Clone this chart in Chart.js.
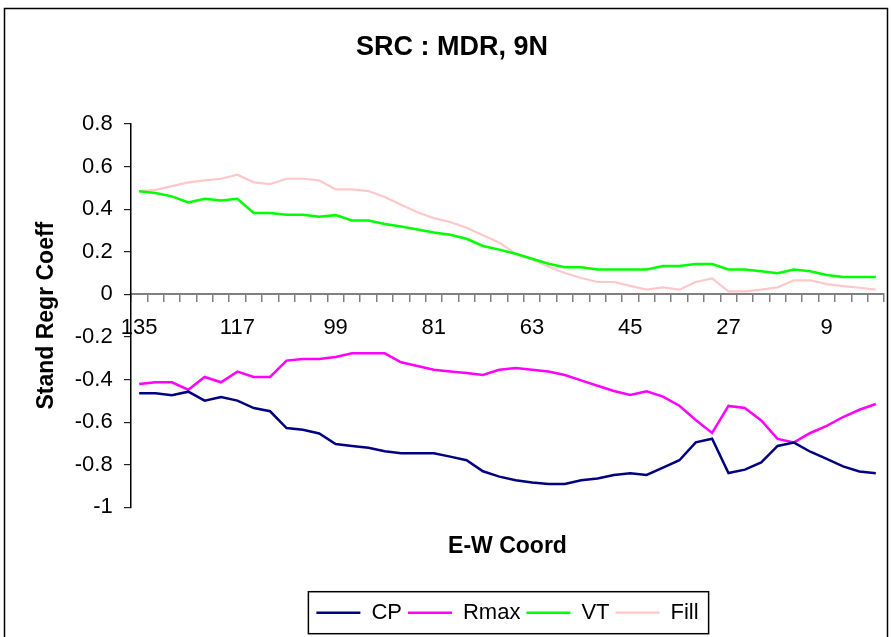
<!DOCTYPE html>
<html>
<head>
<meta charset="utf-8">
<title>SRC : MDR, 9N</title>
<script src="https://cdn.jsdelivr.net/npm/chart.js@4/dist/chart.umd.min.js"></script>
<style>
  html, body { margin: 0; padding: 0; background: #fff; }
  canvas { display: block; }
</style>
</head>
<body>
<canvas id="src_chart" width="892" height="637"></canvas>
<script>
const coords = [135, 132, 129, 126, 123, 120, 117, 114, 111, 108, 105, 102, 99, 96, 93, 90,
  87, 84, 81, 78, 75, 72, 69, 66, 63, 60, 57, 54, 51, 48, 45, 42, 39, 36, 33, 30, 27, 24,
  21, 18, 15, 12, 9, 6, 3, 0];

const cp = [-0.465, -0.465, -0.474, -0.457, -0.499, -0.482, -0.499, -0.534, -0.549, -0.628,
  -0.636, -0.653, -0.703, -0.712, -0.72, -0.737, -0.746, -0.746, -0.746, -0.762, -0.779,
  -0.831, -0.856, -0.873, -0.883, -0.891, -0.891, -0.873, -0.865, -0.848, -0.84, -0.848,
  -0.814, -0.779, -0.695, -0.678, -0.839, -0.823, -0.789, -0.712, -0.696, -0.739, -0.773,
  -0.808, -0.832, -0.84];

const rmax = [-0.421, -0.413, -0.413, -0.448, -0.388, -0.413, -0.363, -0.388, -0.388, -0.311,
  -0.304, -0.304, -0.294, -0.277, -0.277, -0.277, -0.319, -0.336, -0.354, -0.362, -0.369,
  -0.379, -0.354, -0.346, -0.354, -0.362, -0.379, -0.404, -0.429, -0.454, -0.472, -0.455,
  -0.48, -0.523, -0.59, -0.651, -0.524, -0.534, -0.592, -0.679, -0.695, -0.651, -0.618,
  -0.576, -0.542, -0.515];

const vt = [0.484, 0.476, 0.46, 0.432, 0.449, 0.441, 0.449, 0.382, 0.382, 0.374, 0.374, 0.365,
  0.372, 0.347, 0.347, 0.33, 0.319, 0.305, 0.29, 0.28, 0.261, 0.227, 0.21, 0.191, 0.167,
  0.144, 0.127, 0.127, 0.117, 0.117, 0.117, 0.117, 0.133, 0.133, 0.142, 0.142, 0.117, 0.117,
  0.108, 0.099, 0.117, 0.108, 0.091, 0.081, 0.081, 0.081];

const fill = [0.484, 0.491, 0.508, 0.526, 0.535, 0.543, 0.562, 0.526, 0.518, 0.543, 0.543,
  0.535, 0.493, 0.493, 0.485, 0.457, 0.421, 0.386, 0.358, 0.34, 0.313, 0.277, 0.243, 0.191,
  0.164, 0.131, 0.1, 0.077, 0.058, 0.058, 0.04, 0.022, 0.033, 0.022, 0.058, 0.075, 0.014,
  0.014, 0.022, 0.033, 0.066, 0.066, 0.048, 0.039, 0.031, 0.022];

const FONT = 'Liberation Sans, Arial, sans-serif';

// white page with the thin outer frame
const chartFrame = {
  id: 'chartFrame',
  beforeDraw(chart) {
    const c = chart.ctx;
    c.save();
    c.fillStyle = '#fff';
    c.fillRect(0, 0, chart.width, chart.height);
    c.strokeStyle = '#000';
    c.lineWidth = 1.5;
    c.strokeRect(4.5, 8.5, 883, 700);
    c.restore();
  }
};

// box round the legend row
const legendBorder = {
  id: 'legendBorder',
  afterDraw(chart) {
    const boxes = chart.legend.legendHitBoxes;
    if (!boxes || !boxes.length) return;
    const first = boxes[0];
    const last = boxes[boxes.length - 1];
    const mid = first.top + first.height / 2;
    const c = chart.ctx;
    c.save();
    c.strokeStyle = '#000';
    c.lineWidth = 1.5;
    c.strokeRect(first.left - 8, mid - 21, last.left + last.width + 18 - first.left, 42);
    c.restore();
  }
};

const line = (label, data, color, width) => ({
  label: label,
  data: data,
  borderColor: color,
  backgroundColor: color,
  borderWidth: width,
  pointRadius: 0,
  pointHoverRadius: 0,
  tension: 0,
  fill: false
});

const src = new Chart(document.getElementById('src_chart'), {
  type: 'line',
  data: {
    labels: coords,
    datasets: [
      line('CP', cp, '#000080', 2.5),
      line('Rmax', rmax, '#ff00ff', 2.5),
      line('VT', vt, '#00ff00', 2.5),
      line('Fill', fill, '#ffc8c8', 2.2)
    ]
  },
  plugins: [chartFrame, legendBorder],
  options: {
    responsive: false,
    animation: false,
    devicePixelRatio: 1,
    layout: { padding: { left: 20, right: 8, top: 0, bottom: 3.3 } },
    plugins: {
      title: {
        display: true,
        text: 'SRC : MDR, 9N',
        color: '#000',
        font: { family: FONT, size: 27, weight: 'bold', lineHeight: 1.2 },
        padding: { top: 31, bottom: 60.6 }
      },
      legend: {
        position: 'bottom',
        fullSize: false,
        labels: {
          color: '#000',
          font: { family: FONT, size: 22 },
          usePointStyle: true,
          pointStyle: 'line',
          pointStyleWidth: 44,
          padding: 6
        }
      },
      tooltip: { enabled: false }
    },
    scales: {
      x: {
        type: 'category',
        position: { y: 0 },
        offset: true,
        grid: {
          offset: true,
          drawOnChartArea: false,
          tickLength: 7,
          color: '#808080',
          lineWidth: 1.5
        },
        border: { color: '#808080', width: 2 },
        ticks: {
          autoSkip: false,
          maxRotation: 0,
          padding: 13,
          color: '#000',
          font: { family: FONT, size: 22, lineHeight: 1.2 },
          callback: function (value, index) {
            return index % 6 === 0 ? this.getLabelForValue(value) : '';
          }
        }
      },
      xTitle: {
        type: 'category',
        position: 'bottom',
        labels: coords,
        grid: { display: false, drawTicks: false },
        border: { display: false },
        ticks: { display: false },
        title: {
          display: true,
          text: 'E-W Coord',
          color: '#000',
          font: { family: FONT, size: 23, weight: 'bold', lineHeight: 1.2 },
          padding: { top: 25.6, bottom: 35.2 }
        }
      },
      y: {
        min: -1,
        max: 0.8,
        afterFit: function (scale) { scale.width = 111; },
        grid: {
          drawOnChartArea: false,
          tickLength: 7,
          color: '#222',
          lineWidth: 1.2
        },
        border: { color: '#000', width: 1.5 },
        ticks: {
          stepSize: 0.2,
          padding: 11.3,
          color: '#000',
          font: { family: FONT, size: 22 },
          callback: v => Number(v.toFixed(1)).toString()
        },
        title: {
          display: true,
          text: 'Stand Regr Coeff',
          color: '#000',
          font: { family: FONT, size: 23, weight: 'bold', lineHeight: 1.2 },
          padding: { top: 13, bottom: 0 }
        }
      }
    }
  }
});
</script>
</body>
</html>
